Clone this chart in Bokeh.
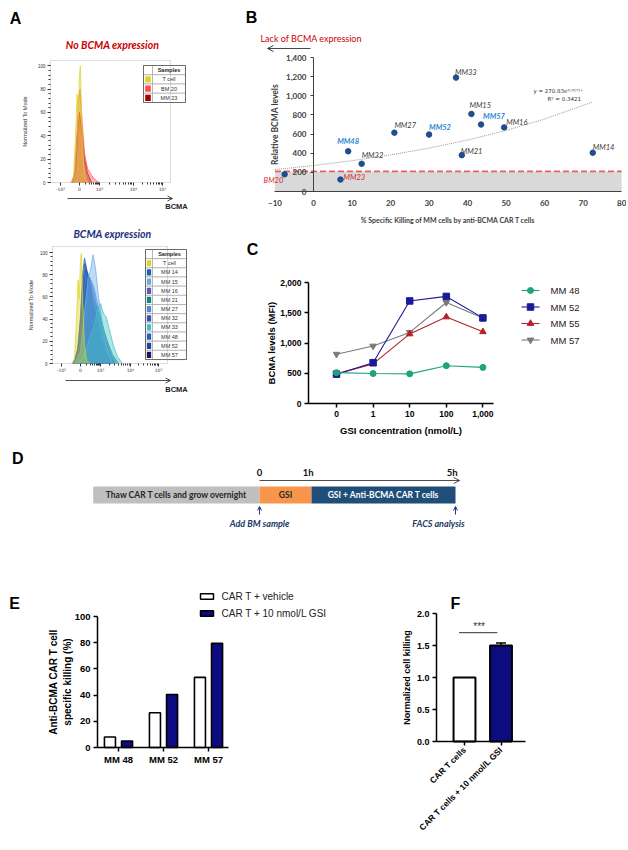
from math import pi, log10
from bokeh.plotting import figure
from bokeh.layouts import column, row
from bokeh.models import (Range1d, FixedTicker, NumeralTickFormatter, Arrow, OpenHead,
                          BoxAnnotation, ColumnDataSource, Whisker, TeeHead)
from bokeh.core.properties import value
from bokeh.embed import file_html
from bokeh.resources import INLINE

ARIAL = "Liberation Sans"
CALI = "Lato"
DEJA = "DejaVu Sans"
NAVY = "#0c0c80"

# ======================= DATA =======================
# ---- Panel A: flow histograms (x in display units of the biexponential BCMA axis) ----
A_tick_labels = ["-10³", "0", "10³", "10⁴", "10⁵"]
A1_tick_pos = [-0.95, 0.0, 1.0, 2.7, 4.15]
A2_tick_pos = [-0.95, 0.0, 1.0, 2.5, 3.9]
A_y_ticks = [0, 20, 40, 60, 80, 100]

A1_samples = ["T cell", "BM 20", "MM 23"]
A1_colors = ["#dcd51e", "#ff4d4d", "#a50000"]
A1_curve_x = [
    [-0.45, -0.3, -0.2, -0.12, -0.07, 0.0, 0.04, 0.1, 0.2, 0.3, 0.45],
    [-0.4, -0.25, -0.12, -0.05, 0.03, 0.12, 0.25, 0.4, 0.6, 0.8, 1.0],
    [-0.35, -0.2, -0.1, 0.0, 0.1, 0.25, 0.4, 0.6],
]
A1_curve_y = [
    [0, 4, 40, 76, 58, 92, 100, 62, 15, 3, 0],
    [0, 8, 45, 70, 80, 55, 25, 12, 6, 2, 0],
    [0, 10, 38, 60, 46, 20, 8, 0],
]

A2_samples = ["T cell", "MM 14", "MM 15", "MM 16", "MM 21", "MM 27", "MM 32", "MM 33",
              "MM 48", "MM 52", "MM 57"]
A2_colors = ["#dcd51e", "#1b5fae", "#6aaae6", "#5b5db6", "#138585", "#4a8bd6", "#3a4db3",
             "#3dc1c1", "#1f63bf", "#27409e", "#15195a"]
A2_curve_x = [
    [-0.45, -0.3, -0.2, -0.12, -0.07, 0.0, 0.04, 0.1, 0.2, 0.3, 0.45],
    [-0.4, -0.2, 0.0, 0.1, 0.2, 0.3, 0.45, 0.6, 0.8, 1.0, 1.2, 1.5],
    [-0.3, 0.0, 0.2, 0.38, 0.5, 0.63, 0.75, 0.9, 1.1, 1.3, 1.6],
    [-0.3, 0.0, 0.15, 0.3, 0.5, 0.7, 0.9, 1.2, 1.5],
    [-0.3, 0.0, 0.2, 0.5, 0.8, 1.0, 1.3, 1.6, 1.9],
    [-0.3, 0.0, 0.25, 0.45, 0.65, 0.9, 1.2, 1.5, 1.8],
    [-0.35, -0.1, 0.1, 0.25, 0.45, 0.7, 1.0, 1.3, 1.6],
    [-0.2, 0.1, 0.3, 0.5, 0.7, 0.85, 1.0, 1.15, 1.28, 1.45, 1.65, 1.85, 2.1],
    [-0.35, -0.05, 0.15, 0.35, 0.55, 0.8, 1.1, 1.4, 1.7],
    [-0.35, -0.1, 0.08, 0.22, 0.4, 0.6, 0.9, 1.2, 1.5],
    [-0.3, 0.0, 0.2, 0.4, 0.6, 0.9, 1.2, 1.5],
]
A2_curve_y = [
    [0, 4, 40, 75, 58, 92, 99, 62, 15, 3, 0],
    [0, 5, 40, 80, 95, 86, 70, 55, 35, 18, 8, 0],
    [0, 10, 45, 78, 84, 98, 86, 60, 35, 15, 0],
    [0, 20, 55, 70, 62, 45, 30, 12, 0],
    [0, 10, 35, 60, 52, 40, 22, 8, 0],
    [0, 12, 55, 78, 70, 50, 28, 10, 0],
    [0, 15, 60, 85, 75, 50, 28, 10, 0],
    [0, 5, 15, 25, 35, 48, 54, 45, 42, 30, 16, 6, 0],
    [0, 12, 55, 82, 72, 52, 30, 12, 0],
    [0, 15, 65, 90, 78, 55, 30, 12, 0],
    [0, 10, 30, 40, 35, 22, 10, 0],
]

# ---- Panel B: killing vs BCMA ----
B_samples = ["BM20", "MM23", "MM48", "MM32", "MM27", "MM52", "MM33", "MM21", "MM15", "MM57", "MM16", "MM14"]
B_kill = [-7.5, 7.0, 9.0, 12.5, 21.0, 30.0, 37.0, 38.5, 41.0, 43.5, 49.5, 72.5]
B_bcma = [180, 125, 420, 290, 615, 595, 1190, 380, 810, 700, 670, 405]
B_group = ["neg", "neg", "gsi", "oth", "oth", "gsi", "oth", "oth", "oth", "gsi", "oth", "oth"]
B_trend_x = [-10, 0, 10, 20, 30, 40, 50, 60, 72.5]
B_trend_y = [229, 271, 322, 383, 453, 538, 638, 757, 935]
B_threshold = 210
B_x_ticks = [-10, 0, 10, 20, 30, 40, 50, 60, 70, 80]
B_y_ticks = [0, 200, 400, 600, 800, 1000, 1200, 1400]

# ---- Panel C: BCMA MFI vs GSI ----
C_conc = ["0", "1", "10", "100", "1,000"]
C_series = ["MM 48", "MM 52", "MM 55", "MM 57"]
C_mm48 = [510, 495, 490, 625, 597]
C_mm52 = [485, 675, 1695, 1770, 1415]
C_mm55 = [490, 655, 1150, 1430, 1185]
C_mm57 = [815, 950, 1175, 1670, 1415]
C_y_ticks = [0, 500, 1000, 1500, 2000]

# ---- Panel D: timeline ----
D_stages = ["Thaw CAR T cells and grow overnight", "GSI", "GSI + Anti-BCMA CAR T cells"]
D_stage_start = [-3.2, 0.0, 1.0]
D_stage_end = [0.0, 1.0, 3.77]
D_time_pos = [0.0, 1.0, 3.77]
D_time_labels = ["0", "1h", "5h"]
D_events = ["Add BM sample", "FACS analysis"]
D_event_pos = [0.0, 3.77]

# ---- Panel E ----
E_groups = ["MM 48", "MM 52", "MM 57"]
E_vehicle = [8, 26.5, 53.5]
E_gsi = [5, 40.5, 79.5]
E_series = ["CAR T + vehicle", "CAR T + 10 nmol/L GSI"]
E_y_ticks = [0, 20, 40, 60, 80, 100]

# ---- Panel F ----
F_labels = ["CAR T cells", "CAR T cells + 10 nmol/L GSI"]
F_values = [1.0, 1.5]
F_err = [0.0, 0.04]
F_sig_y = 1.7
F_y_ticks = [0.0, 0.5, 1.0, 1.5, 2.0]


# ======================= HELPERS =======================
def mk(ox, oy, w, h, X, Y):
    """Figure whose plotting frame fills the whole canvas; axes are drawn at fixed locations."""
    p = figure(width=w, height=h, x_range=Range1d(X(ox), X(ox + w)),
               y_range=Range1d(Y(oy + h), Y(oy)), output_backend="svg", toolbar_location=None,
               min_border=0, min_border_left=0, min_border_right=0, min_border_top=0,
               min_border_bottom=0)
    p.outline_line_color = None
    p.grid.visible = False
    return p


def ptext(p, X, Y, px, py, txt, font=ARIAL, size="9px", style="normal", color="#222222",
          align="left", baseline="middle"):
    p.text(x=[X(px)], y=[Y(py)], text=[txt], text_font=value(font), text_font_size=size,
           text_font_style=style, text_color=color, text_align=align, text_baseline=baseline)


def letter(p, X, Y, px, py, txt):
    ptext(p, X, Y, px, py, txt, font=ARIAL, size="16px", style="bold", color="black",
          align="center")


def style_axis(ax, font, size, bold=True, color="black", lw=1.5, tick_out=4, standoff=3):
    ax.axis_line_color = color
    ax.axis_line_width = lw
    ax.major_tick_line_color = color
    ax.major_tick_line_width = lw
    ax.major_tick_out = tick_out
    ax.major_tick_in = 0
    ax.minor_tick_line_color = None
    ax.major_label_text_font = font
    ax.major_label_text_font_size = size
    ax.major_label_text_font_style = "bold" if bold else "normal"
    ax.major_label_text_color = color
    ax.major_label_standoff = standoff
    ax.axis_label_text_font = font
    ax.axis_label_text_font_style = "bold"
    ax.axis_label_text_color = color


def decade_minors(pos):
    m = []
    for a, b in zip(pos[2:-1], pos[3:]):
        m += [a + (b - a) * log10(k) for k in range(2, 10)]
    m += [pos[2] * log10(k) for k in range(2, 10)]
    return m


def make_hist(cfg, samples, colors, cx, cy, order, tick_pos):
    zx, zy, ppv = cfg["zx"], cfg["zy"], cfg["ppv"]
    X = lambda px: (px - zx) / 20.0
    Y = lambda py: (zy - py) / ppv
    p = mk(*cfg["fig"], X, Y)
    for i in order:
        p.varea(x=cx[i], y1=0, y2=cy[i], fill_color=colors[i], fill_alpha=0.42)
        p.line(cx[i], cy[i], line_color=colors[i], line_width=0.8, line_alpha=0.9)
    fl = cfg["axis_x"]
    box_r, box_t = X(cfg["box_r"]), Y(cfg["box_t"])
    p.add_layout(BoxAnnotation(left=X(fl), right=box_r, bottom=0, top=box_t,
                               fill_color=None, fill_alpha=0, line_color="#707070", line_width=0.8))
    xa = p.xaxis[0]
    style_axis(xa, DEJA, "4.5px", bold=False, color="#333333", lw=1, tick_out=3, standoff=1)
    xa.fixed_location = 0
    xa.bounds = (X(fl), box_r)
    xa.ticker = FixedTicker(ticks=tick_pos, minor_ticks=decade_minors(tick_pos))
    xa.minor_tick_line_color = "#333333"
    xa.minor_tick_out = 2
    xa.minor_tick_in = 0
    xa.axis_line_color = None
    xa.major_label_overrides = {t: l for t, l in zip(tick_pos, A_tick_labels)}
    ya = p.yaxis[0]
    style_axis(ya, ARIAL, "4.5px", bold=False, color="#333333", lw=1, tick_out=3, standoff=2)
    ya.fixed_location = X(fl)
    ya.bounds = (0, box_t)
    ya.ticker = FixedTicker(ticks=A_y_ticks, minor_ticks=list(range(0, 101, 4)))
    ya.minor_tick_line_color = "#333333"
    ya.minor_tick_out = 2
    ya.minor_tick_in = 0
    ya.axis_line_color = None
    ya.axis_label = "Normalized To Mode"
    ya.axis_label_text_font_size = "5.5px"
    ya.axis_label_text_font_style = "normal"
    ya.axis_label_standoff = cfg["ylab_standoff"]
    # table legend
    x0, xd, x1 = X(cfg["tab"][0]), X(cfg["tab"][1]), X(cfg["tab"][2])
    ytop = Y(cfg["tab"][3])
    rh = cfg["tab"][4] / ppv
    n = len(samples) + 1
    ys = [ytop - rh * (i + 0.5) for i in range(n)]
    p.rect(x=[(x0 + xd) / 2] * n, y=ys, width=xd - x0, height=rh, fill_color="white",
           line_color="#9a9a9a", line_width=0.6)
    p.rect(x=[(xd + x1) / 2] * n, y=ys, width=x1 - xd, height=rh, fill_color="white",
           line_color="#9a9a9a", line_width=0.6)
    p.rect(x=[(x0 + x1) / 2], y=[ytop - rh * n / 2], width=x1 - x0, height=rh * n,
           fill_color=None, line_color="#555555", line_width=0.8)
    p.rect(x=[(x0 + xd) / 2] * (n - 1), y=ys[1:], width=(xd - x0) * 0.62, height=rh * 0.68,
           fill_color=colors, line_color=None)
    p.text(x=[(xd + x1) / 2], y=[ys[0]], text=["Samples"], text_font=value(ARIAL),
           text_font_style="bold", text_font_size="5.5px", text_color="#222222",
           text_align="center", text_baseline="middle")
    p.text(x=[(xd + x1) / 2] * (n - 1), y=ys[1:], text=samples, text_font=value(ARIAL),
           text_font_size="5.5px", text_color="#333333", text_align="center",
           text_baseline="middle")
    ptext(p, X, Y, *cfg["title_xy"], cfg["title"], font=CALI, size="10.5px",
          style="bold italic", color=cfg["title_color"], align="center")
    ax0, ax1, ay = cfg["arrow"]
    p.add_layout(Arrow(end=OpenHead(size=5, line_width=0.8, line_color="#222222"),
                       x_start=X(ax0), y_start=Y(ay), x_end=X(ax1), y_end=Y(ay),
                       line_width=0.8, line_color="#222222"))
    ptext(p, X, Y, *cfg["bcma_xy"], "BCMA", size="7.5px", style="bold", align="center")
    return p, X, Y


# ======================= PANEL A =======================
cfg1 = dict(zx=79, zy=182, ppv=1.167, fig=(8, 8, 197, 218), axis_x=50,
            box_r=170, box_t=60, tab=(143, 152, 185, 65, 9.25), title="No BCMA expression",
            title_color="#cc0000", title_xy=(112, 44), arrow=(67, 172, 198), bcma_xy=(176, 206),
            ylab_standoff=7)
pA1, AX1, AY1 = make_hist(cfg1, A1_samples, A1_colors, A1_curve_x, A1_curve_y, [2, 1, 0],
                          A1_tick_pos)
letter(pA1, AX1, AY1, 15, 18, "A")

cfg2 = dict(zx=80, zy=363, ppv=1.11, fig=(8, 226, 230, 219), axis_x=52,
            box_r=167, box_t=246, tab=(145, 152, 186, 249, 9.17), title="BCMA expression",
            title_color="#1c2f80", title_xy=(112, 233), arrow=(65, 170, 380), bcma_xy=(176, 389),
            ylab_standoff=3)
pA2, AX2, AY2 = make_hist(cfg2, A2_samples, A2_colors, A2_curve_x, A2_curve_y,
                          [10, 9, 6, 3, 1, 8, 4, 5, 2, 7, 0], A2_tick_pos)

# ======================= PANEL B =======================
BX = lambda px: (px - 313) / 3.852
BY = lambda py: (191 - py) / 0.0957
pB = mk(205, 8, 421, 218, BX, BY)
pB.quad(left=[B_x_ticks[0]], right=[B_x_ticks[-1]], bottom=[0], top=[B_threshold],
        fill_color="#d9d9d9", line_color=None)
pB.segment(x0=[B_x_ticks[0]], x1=[B_x_ticks[-1]], y0=[B_threshold], y1=[B_threshold],
           line_color="#e4605e", line_width=1.6, line_dash="6 3")
pB.line(B_trend_x, B_trend_y, line_color="#8c8c8c", line_width=0.9, line_dash="1 1")
grp_color = {"neg": "#d42a2a", "gsi": "#2e86d6", "oth": "#3a3a3a"}
grp_style = {"neg": "italic", "gsi": "bold italic", "oth": "italic"}
lab_dx = [-21, 3, -11, 0, 0, 0, -1, -1, -2, 2, 2, 0]
lab_dy = [6, -2, -10, -8, -7, -7, -5, -4, -8, -8, -5, -5]
srcB = ColumnDataSource(dict(x=B_kill, y=B_bcma, name=B_samples,
                             col=[grp_color[g] for g in B_group],
                             sty=[grp_style[g] for g in B_group], dx=lab_dx, dy=lab_dy))
pB.scatter("x", "y", source=srcB, size=5.5, fill_color="#1f4e8c", line_color="#1f4e8c")
pB.text("x", "y", text="name", source=srcB, x_offset="dx", y_offset="dy", text_color="col",
        text_font_style="sty", text_font=value(CALI), text_font_size="7.5px",
        text_baseline="middle", text_align="left")
ptext(pB, BX, BY, 533, 90, "y = 270.83e⁰·⁰¹⁷¹ˣ", font=DEJA, size="5.5px", color="#333333")
ptext(pB, BX, BY, 547, 98, "R² = 0.3421", font=DEJA, size="5.5px", color="#333333")
ptext(pB, BX, BY, 260, 38, "Lack of BCMA expression", font=CALI, size="9px", color="#cc0000")
pB.add_layout(Arrow(end=OpenHead(size=6, line_width=0.9, line_color="#333333"),
                    x_start=BX(310), y_start=BY(48), x_end=BX(267), y_end=BY(48),
                    line_width=0.9, line_color="#333333"))
ya = pB.yaxis[0]
style_axis(ya, CALI, "8px", color="#404040", lw=1, tick_out=3, standoff=4)
ya.fixed_location = 0
ya.bounds = (0, B_y_ticks[-1])
ya.ticker = FixedTicker(ticks=B_y_ticks)
ya.formatter = NumeralTickFormatter(format="0,0")
ya.axis_label = "Relative BCMA levels"
ya.axis_label_text_font_size = "8.5px"
ya.axis_label_standoff = 3
xa = pB.xaxis[0]
style_axis(xa, CALI, "8px", color="#404040", lw=1, tick_out=0, standoff=8)
xa.fixed_location = 0
xa.bounds = (B_x_ticks[0], B_x_ticks[-1])
xa.ticker = FixedTicker(ticks=B_x_ticks)
xa.axis_label = "% Specific Killing of MM cells by anti-BCMA CAR T cells"
xa.axis_label_text_font_size = "7px"
xa.axis_label_standoff = 7
letter(pB, BX, BY, 251, 17, "B")

# ======================= PANEL C =======================
Cx = lambda px: (px - 336) / 36.6
Cy = lambda py: (403 - py) / (121 / 2000.0)
pC = mk(238, 226, 388, 219, Cx, Cy)
C_x = list(range(len(C_conc)))
C_vals = [C_mm48, C_mm52, C_mm55, C_mm57]
C_colors = ["#1fa37a", "#1a1a99", "#b5202a", "#7a7a7a"]
C_markers = ["circle", "square", "triangle", "inverted_triangle"]
C_sizes = [6, 6.5, 6.5, 6.5]
for i in [3, 2, 1, 0]:
    pC.line(C_x, C_vals[i], line_color=C_colors[i], line_width=1.1)
    pC.scatter(C_x, C_vals[i], marker=C_markers[i], size=C_sizes[i],
               fill_color=C_colors[i], line_color=C_colors[i])
leg_rows = [290, 306.5, 323, 339.5]
for i in range(4):
    yy = Cy(leg_rows[i])
    pC.line([Cx(521), Cx(539)], [yy, yy], line_color=C_colors[i], line_width=1.1)
    pC.scatter([Cx(530)], [yy], marker=C_markers[i], size=C_sizes[i],
               fill_color=C_colors[i], line_color=C_colors[i])
pC.text(x=[Cx(550)] * 4, y=[Cy(r) for r in leg_rows], text=C_series, text_font=value(ARIAL),
        text_font_size="9.5px", text_color="#222222", text_baseline="middle")
ya = pC.yaxis[0]
style_axis(ya, ARIAL, "8.5px", tick_out=4, standoff=3)
ya.fixed_location = Cx(308)
ya.bounds = (0, C_y_ticks[-1])
ya.ticker = FixedTicker(ticks=C_y_ticks)
ya.formatter = NumeralTickFormatter(format="0,0")
ya.axis_label = "BCMA levels (MFI)"
ya.axis_label_text_font_size = "9.5px"
ya.axis_label_standoff = 0
xa = pC.xaxis[0]
style_axis(xa, ARIAL, "8.5px", tick_out=4, standoff=3)
xa.fixed_location = 0
xa.bounds = (Cx(308), Cx(493))
xa.ticker = FixedTicker(ticks=C_x)
xa.major_label_overrides = {i: c for i, c in zip(C_x, C_conc)}
xa.axis_label = "GSI concentration (nmol/L)"
xa.axis_label_text_font_size = "9.5px"
xa.axis_label_standoff = 5
letter(pC, Cx, Cy, 252, 249, "C")

# ======================= PANEL D =======================
pD = figure(width=618, height=140, x_range=Range1d(-4.83, 7.06), y_range=Range1d(0, 140),
            x_axis_type=None, y_axis_type=None, min_border=0, output_backend="svg",
            toolbar_location=None)
pD.outline_line_color = None
pD.grid.visible = False
pD.quad(left=D_stage_start, right=D_stage_end, bottom=82, top=99,
        fill_color=["#bfbfbf", "#f7964a", "#1f4e79"], line_color=None)
pD.text(x=[(a + b) / 2 for a, b in zip(D_stage_start, D_stage_end)], y=[90.5] * 3,
        text=D_stages, text_color=["#262626", "#262626", "white"], text_font=value(CALI),
        text_font_style="bold", text_font_size="8.5px", text_align="center",
        text_baseline="middle")
pD.add_layout(Arrow(end=OpenHead(size=6, line_width=0.8, line_color="#222222"),
                    x_start=D_time_pos[0], y_start=105, x_end=D_time_pos[-1] + 0.08, y_end=105,
                    line_width=0.8, line_color="#222222"))
pD.text(x=D_time_pos[:1], y=[113], text=D_time_labels[:1], text_font=value(CALI),
        text_font_style="bold", text_font_size="9.5px", text_color="#111111",
        text_align="center", text_baseline="middle")
pD.text(x=D_time_pos[1:], y=[113, 113], text=D_time_labels[1:], text_font=value(CALI),
        text_font_style="bold", text_font_size="9.5px", text_color="#111111",
        text_align="right", text_baseline="middle", x_offset=2)
for xp in D_event_pos:
    pD.add_layout(Arrow(end=OpenHead(size=4, line_width=1, line_color="#1f3a7a"),
                        x_start=xp, y_start=71, x_end=xp, y_end=79,
                        line_width=1, line_color="#1f3a7a"))
pD.text(x=D_event_pos, y=[62, 62], text=D_events, x_offset=[0, -17], text_font=value(CALI),
        text_font_style="bold italic", text_font_size="9px", text_color="#203864",
        text_align="center", text_baseline="middle")
pD.text(x=[-4.65], y=[127], text=["D"], text_font=value(ARIAL), text_font_style="bold",
        text_font_size="16px", text_align="center", text_baseline="middle", text_color="black")

# ======================= PANEL E =======================
Ex = lambda px: (px - 118) / 45.0
Ey = lambda py: (747 - py) / 1.31
E_x = list(range(len(E_groups)))
pE = mk(8, 585, 327, 257, Ex, Ey)
pE.vbar(x=[x - 0.19 for x in E_x], top=E_vehicle, width=0.245, fill_color="white",
        line_color="black", line_width=1.6)
pE.vbar(x=[x + 0.19 for x in E_x], top=E_gsi, width=0.245, fill_color=NAVY,
        line_color="black", line_width=1.6)
leg_e = [596, 613]
pE.rect(x=[Ex(206.5)] * 2, y=[Ey(r) for r in leg_e], width=13 / 45.0, height=5.5 / 1.31,
        fill_color=["white", NAVY], line_color="black", line_width=1.5)
pE.text(x=[Ex(221)] * 2, y=[Ey(r) for r in leg_e], text=E_series, text_font=value(ARIAL),
        text_font_size="10px", text_color="#222222", text_baseline="middle")
ya = pE.yaxis[0]
style_axis(ya, ARIAL, "9.5px", tick_out=4, standoff=3)
ya.fixed_location = Ex(97)
ya.bounds = (0, E_y_ticks[-1])
ya.ticker = FixedTicker(ticks=E_y_ticks)
ya.axis_label = "Anti-BCMA CAR T cell\nspecific killing (%)"
ya.axis_label_text_font_size = "10px"
ya.axis_label_standoff = -1
xa = pE.xaxis[0]
style_axis(xa, ARIAL, "9.5px", tick_out=4, standoff=2)
xa.fixed_location = 0
xa.bounds = (Ex(97), Ex(228))
xa.ticker = FixedTicker(ticks=E_x)
xa.major_label_overrides = {i: g for i, g in zip(E_x, E_groups)}
letter(pE, Ex, Ey, 14, 603, "E")

# ======================= PANEL F =======================
Fx = lambda px: (px - 464) / 36.5
Fy = lambda py: (741 - py) / 64.0
F_x = list(range(len(F_labels)))
pF = mk(335, 585, 291, 257, Fx, Fy)
pF.vbar(x=F_x, top=F_values, width=0.6, fill_color=["white", NAVY], line_color="black",
        line_width=2)
has_err = [i for i in F_x if F_err[i] > 0]
wsrc = ColumnDataSource(dict(x=[F_x[i] for i in has_err],
                             upper=[F_values[i] + F_err[i] for i in has_err],
                             lower=[F_values[i] for i in has_err]))
pF.add_layout(Whisker(source=wsrc, base="x", upper="upper", lower="lower", line_color="black",
                      line_width=1.5, upper_head=TeeHead(size=10, line_width=1.5, line_color="black"),
                      lower_head=None))
pF.segment(x0=[F_x[0] - 0.15], x1=[F_x[1] - 0.1], y0=[F_sig_y], y1=[F_sig_y],
           line_color="#333333", line_width=1)
pF.text(x=[(F_x[0] + F_x[1]) / 2 - 0.1], y=[F_sig_y], text=["***"], y_offset=-1,
        text_font=value(ARIAL), text_font_size="10px", text_color="#333333",
        text_align="center", text_baseline="bottom")
ya = pF.yaxis[0]
style_axis(ya, ARIAL, "9px", tick_out=4, standoff=3)
ya.fixed_location = Fx(436)
ya.bounds = (0, F_y_ticks[-1])
ya.ticker = FixedTicker(ticks=F_y_ticks)
ya.formatter = NumeralTickFormatter(format="0.0")
ya.axis_label = "Normalized cell killing"
ya.axis_label_text_font_size = "9px"
ya.axis_label_standoff = 2
xa = pF.xaxis[0]
style_axis(xa, ARIAL, "8.5px", tick_out=4, standoff=3)
xa.fixed_location = 0
xa.bounds = (Fx(436), Fx(525))
xa.ticker = FixedTicker(ticks=F_x)
xa.major_label_overrides = {i: l for i, l in zip(F_x, F_labels)}
xa.major_label_orientation = pi / 4
letter(pF, Fx, Fy, 455, 603, "F")

layout = column(row(pA1, pB), row(pA2, pC), pD, row(pE, pF), margin=(8, 0, 0, 8))
open("out.html", "w").write(file_html(layout, INLINE))
